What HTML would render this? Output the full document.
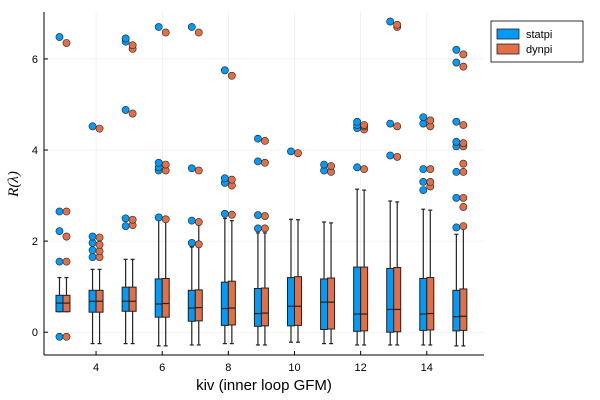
<!DOCTYPE html>
<html><head><meta charset="utf-8"><style>
body{margin:0;background:#fff;}
svg{display:block;font-family:"Liberation Sans",sans-serif;}
</style></head><body>
<svg id="chart" width="600" height="400"></svg>
<script>
const categories=[3,4,5,6,7,8,9,10,11,12,13,14,15];
const xTicks=[4,6,8,10,12,14];
const yTicks=[0,2,4,6];
const seriesNames=["statpi","dynpi"];
const seriesColors=["#009af9","#e26f46"];
// [whiskerLow, q1, median, q3, whiskerHigh]
const statpiBoxes=[[0.45,0.45,0.64,0.81,1.2],[-0.25,0.44,0.68,0.92,1.38],[-0.25,0.46,0.68,0.99,1.6],[-0.3,0.33,0.62,1.17,2.48],[-0.28,0.24,0.53,0.92,1.87],[-0.25,0.15,0.52,1.1,2.5],[-0.28,0.13,0.41,0.96,2.18],[-0.22,0.14,0.57,1.2,2.48],[-0.25,0.06,0.66,1.17,2.42],[-0.28,0.02,0.4,1.43,3.14],[-0.28,0,0.5,1.4,2.88],[-0.28,0.04,0.4,1.18,2.7],[-0.3,0.03,0.34,0.92,2.15]];
const dynpiBoxes=[[0.45,0.45,0.64,0.81,1.2],[-0.25,0.44,0.68,0.92,1.38],[-0.25,0.46,0.68,0.99,1.6],[-0.3,0.33,0.63,1.18,2.45],[-0.28,0.25,0.54,0.93,2.35],[-0.25,0.16,0.53,1.12,2.45],[-0.28,0.14,0.42,0.97,2.18],[-0.22,0.15,0.57,1.22,2.47],[-0.25,0.07,0.66,1.19,2.4],[-0.28,0.03,0.4,1.43,3.12],[-0.28,0.01,0.5,1.42,2.86],[-0.28,0.05,0.41,1.2,2.68],[-0.3,0.04,0.35,0.95,2.3]];
const statpiOutliers=[[-0.1,1.55,2.22,2.65,6.48],[1.65,1.8,1.96,2.1,4.52],[2.33,2.5,4.88,6.38,6.45],[2.52,3.55,3.62,3.72,6.7],[1.96,2.45,3.6,6.7],[2.6,3.28,3.38,5.75],[2.28,2.57,3.75,4.25],[3.97],[3.55,3.68],[3.62,4.48,4.55,4.62],[3.88,4.58,6.82],[3.12,3.3,3.58,4.58,4.72],[2.3,2.95,3.52,4.08,4.18,4.62,5.92,6.2]];
const dynpiOutliers=[[-0.1,1.55,2.1,2.65,6.35],[1.65,1.78,1.92,2.08,4.47],[2.35,2.47,4.8,6.22,6.3],[2.48,3.55,3.68,6.58],[1.93,2.42,3.55,6.58],[2.58,3.22,3.35,5.63],[2.28,2.55,3.72,4.2],[3.93],[3.52,3.65],[3.58,4.45,4.52,4.55],[3.85,4.52,6.7,6.75],[3.2,3.3,3.58,4.52,4.65],[2.33,2.75,2.95,3.52,3.7,4.08,4.15,4.55,5.83,6.1]];

const NS="http://www.w3.org/2000/svg";
const svg=document.getElementById('chart');
const L=44,R=484,T=12,B=355;
const xMin=2.426,xMax=15.73,yMin=-0.5,yMax=7.03;
const xs=v=>L+(v-xMin)/(xMax-xMin)*(R-L);
const ys=v=>B-(v-yMin)/(yMax-yMin)*(B-T);
function el(tag,attrs,parent){const e=document.createElementNS(NS,tag);for(const k in attrs)e.setAttribute(k,attrs[k]);(parent||svg).appendChild(e);return e;}

const grid=el('g',{});


xTicks.forEach(t=>el('line',{x1:xs(t),x2:xs(t),y1:T,y2:B,stroke:'#000','stroke-opacity':0.1,'stroke-width':0.5},grid));
yTicks.forEach(t=>el('line',{x1:L,x2:R,y1:ys(t),y2:ys(t),stroke:'#000','stroke-opacity':0.1,'stroke-width':0.5},grid));

const hw=7;
[statpiBoxes,dynpiBoxes].forEach((boxes,si)=>{
  const g=el('g',{});
  
  
  boxes.forEach((b,i)=>{
    const c=xs(categories[i]);
    const x0=si===0?c-hw:c;
    const wc=x0+hw/2;
    const box=el('g',{},g);
    
    
    el('line',{x1:wc,x2:wc,y1:ys(b[3]),y2:ys(b[4]),stroke:'#222','stroke-width':1.2},box);
    el('line',{x1:wc,x2:wc,y1:ys(b[1]),y2:ys(b[0]),stroke:'#222','stroke-width':1.2},box);
    el('line',{x1:wc-2,x2:wc+2,y1:ys(b[4]),y2:ys(b[4]),stroke:'#222','stroke-width':1.2},box);
    el('line',{x1:wc-2,x2:wc+2,y1:ys(b[0]),y2:ys(b[0]),stroke:'#222','stroke-width':1.2},box);
    el('rect',{x:x0,y:ys(b[3]),width:hw,height:ys(b[1])-ys(b[3]),fill:seriesColors[si],stroke:'#222','stroke-width':1},box);
    el('line',{x1:x0,x2:x0+hw,y1:ys(b[2]),y2:ys(b[2]),stroke:'#222','stroke-width':1.2},box);
  });
});
[statpiOutliers,dynpiOutliers].forEach((outs,si)=>{
  const g=el('g',{});
  
  
  outs.forEach((arr,i)=>{
    const c=xs(categories[i])+(si===0?-hw/2:hw/2);
    arr.forEach(v=>{
      const p=el('circle',{cx:c,cy:ys(v),r:3.6,fill:seriesColors[si],stroke:'#222','stroke-width':0.6},g);
      
      
    });
  });
});

const axes=el('g',{});


el('line',{x1:L,x2:L,y1:T,y2:B,stroke:'#000','stroke-width':1},axes);
el('line',{x1:L,x2:R,y1:B,y2:B,stroke:'#000','stroke-width':1},axes);
xTicks.forEach(t=>{
  el('line',{x1:xs(t),x2:xs(t),y1:B,y2:B-4,stroke:'#000'},axes);
  const tx=el('text',{x:xs(t),y:B+16,'text-anchor':'middle','font-size':11},axes);
  tx.textContent=t;
  
  
});
yTicks.forEach(t=>{
  el('line',{x1:L,x2:L+4,y1:ys(t),y2:ys(t),stroke:'#000'},axes);
  const tx=el('text',{x:L-6,y:ys(t)+4,'text-anchor':'end','font-size':11},axes);
  tx.textContent=t;
  
  
});
</script>
<svg width="600" height="400" style="position:absolute;left:0;top:0">
  <text x="264" y="390" text-anchor="middle" font-size="15" font-family="Liberation Sans,sans-serif">kiv (inner loop GFM)</text>
  <text transform="translate(18,184) rotate(-90)" text-anchor="middle" font-size="15" font-family="Liberation Serif,serif" font-style="italic">R(λ)</text>
  <g>
    <rect x="491" y="21" width="92" height="41" fill="#fff" stroke="#000" stroke-width="0.8"/>
    <g>
      <rect x="497" y="29" width="22" height="10" fill="#009af9" stroke="#222" stroke-width="0.8"/>
      <text x="526" y="38" font-size="11" font-family="Liberation Sans,sans-serif">statpi</text>
    </g>
    <g>
      <rect x="497" y="44" width="22" height="10" fill="#e26f46" stroke="#222" stroke-width="0.8"/>
      <text x="526" y="53" font-size="11" font-family="Liberation Sans,sans-serif">dynpi</text>
    </g>
  </g>
</svg>
</body></html>
